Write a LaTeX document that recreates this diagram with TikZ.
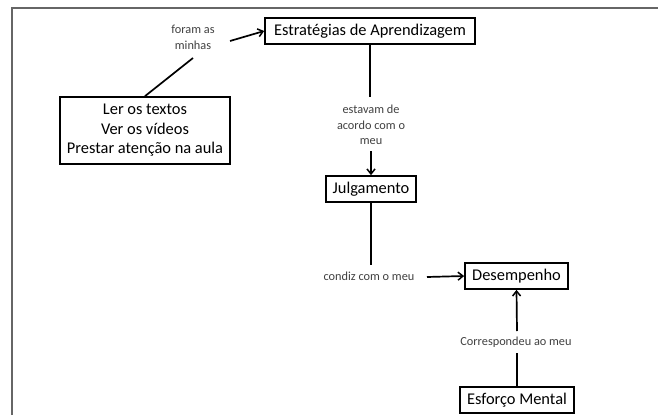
\documentclass[tikz,border=0pt]{standalone}
\usepackage{fontspec}
\setmainfont{Carlito}
\usetikzlibrary{arrows.meta}
\begin{document}
\begin{tikzpicture}[x=1pt,y=-1pt,
  conc/.style={draw=black,line width=1.7pt,fill=white,inner sep=0pt,minimum height=26pt,font=\fontsize{16.4}{19}\selectfont,align=center},
  lbl/.style={inner sep=0pt,font=\fontsize{12.3}{15.5}\selectfont,text=black!75,align=center},
  link/.style={line width=1.7pt},
  arr/.style={link,-{Straight Barb[length=5pt,width=8pt,line width=1.5pt]}}]
\useasboundingbox (0,0) rectangle (658,415);
\draw[gray!80!black,line width=1.3pt] (12,415) -- (12,8) -- (658,8);
\node[conc,minimum width=210pt] (estr) at (370,31) {Estratégias de Aprendizagem};
\node[conc,minimum width=170pt,minimum height=67pt,font=\fontsize{16.4}{19.5}\selectfont] (ler) at (145,130.5) {Ler os textos\\Ver os vídeos\\Prestar atenção na aula};
\node[conc,minimum width=90pt] (julg) at (371,189) {Julgamento};
\node[conc,minimum width=103pt] (desem) at (516.5,276) {Desempenho};
\node[conc,minimum width=114pt] (esf) at (517,400) {Esforço Mental};
\node[lbl] (foram) at (193,37.5) {foram as\\minhas};
\node[lbl] (estav) at (371,125) {estavam de\\acordo com o\\meu};
\node[lbl] (condiz) at (369,276) {condiz com o meu};
\node[lbl] (corr) at (516,342) {Correspondeu ao meu};
\coordinate (f1) at (193,58);
\coordinate (f2) at (230,41);
\draw[link] (ler.north) -- (f1);
\draw[arr] (f2) -- (estr.west);
\draw[link] (estr.south) -- (estr.south |- 0,97);
\draw[arr] (371,151) -- (julg.north);
\draw[link] (julg.south) -- (371,265);
\draw[arr] (427,277) -- (desem.west);
\draw[arr] (517,331) -- (desem.south);
\draw[link] (esf.north) -- (517,353);
\end{tikzpicture}
\end{document}
